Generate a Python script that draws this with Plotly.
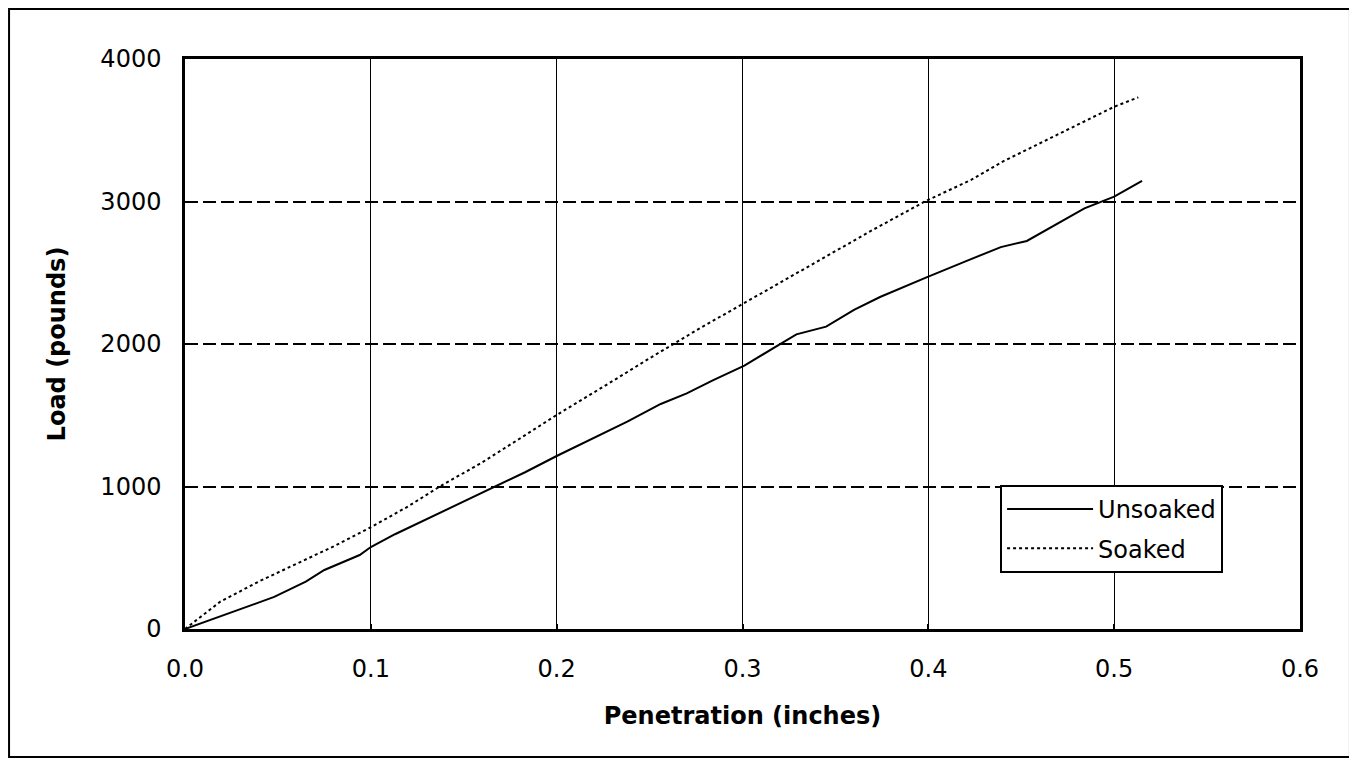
import plotly.graph_objects as go

# Data
unsoaked_x = [0.0, 0.048, 0.065, 0.075, 0.094, 0.100, 0.113, 0.130, 0.152, 0.166,
              0.183, 0.200, 0.223, 0.238, 0.256, 0.270, 0.284, 0.301, 0.320, 0.329,
              0.345, 0.360, 0.374, 0.389, 0.399, 0.420, 0.439, 0.453, 0.484, 0.500,
              0.515]
unsoaked_y = [0, 225, 332, 414, 519, 575, 665, 772, 905, 994,
              1100, 1214, 1361, 1455, 1579, 1654, 1745, 1848, 1998, 2068,
              2122, 2239, 2330, 2414, 2468, 2580, 2680, 2723, 2952, 3034,
              3144]

soaked_x = [0.0, 0.019, 0.040, 0.060, 0.080, 0.100, 0.120, 0.137, 0.160, 0.180,
            0.200, 0.231, 0.250, 0.277, 0.300, 0.346, 0.370, 0.399, 0.423, 0.440,
            0.460, 0.480, 0.500, 0.513]
soaked_y = [0, 192, 335, 460, 580, 714, 860, 999, 1170, 1335,
            1502, 1747, 1900, 2110, 2281, 2618, 2800, 3006, 3151, 3280,
            3410, 3540, 3665, 3731]

x_ticks = [0.0, 0.1, 0.2, 0.3, 0.4, 0.5, 0.6]
y_ticks = [0, 1000, 2000, 3000, 4000]

FONT = "DejaVu Sans"

fig = go.Figure()
fig.add_trace(go.Scatter(x=unsoaked_x, y=unsoaked_y, mode="lines", name="Unsoaked",
                         legendgroup="a",
                         line=dict(color="black", width=2)))
fig.add_trace(go.Scatter(x=soaked_x, y=soaked_y, mode="lines", name="Soaked",
                         legendgroup="b",
                         line=dict(color="black", width=2, dash="dot")))

fig.update_layout(
    width=1349, height=757,
    margin=dict(l=177, r=57, t=51, b=136, autoexpand=False),
    paper_bgcolor="white", plot_bgcolor="white",
    font=dict(family=FONT, size=24, color="black"),
    legend=dict(x=0.731, y=0.2526, xanchor="left", yanchor="top",
                bgcolor="white", bordercolor="black", borderwidth=2,
                font=dict(family=FONT, size=24), itemwidth=86,
                tracegroupgap=5),
    shapes=[dict(type="rect", xref="paper", yref="paper",
                 x0=-0.1578, x1=1.0448, y0=-0.2246, y1=1.0877,
                 line=dict(color="black", width=2), layer="below")],
)

fig.update_xaxes(
    range=[0, 0.6], tickvals=x_ticks, tickformat=".1f",
    showgrid=True, gridcolor="black", gridwidth=1,
    showline=True, linecolor="black", linewidth=3, mirror=True,
    ticks="inside", ticklen=5, tickcolor="black", tickwidth=2,
    ticklabelstandoff=16, zeroline=False,
    tickfont=dict(family=FONT, size=24),
    title=dict(text="Penetration (inches)", standoff=26,
               font=dict(family=FONT, size=24, weight="bold")),
    automargin=False,
)
fig.update_yaxes(
    range=[0, 4000], tickvals=y_ticks,
    showgrid=True, gridcolor="black", gridwidth=2, griddash="13px,5px",
    showline=True, linecolor="black", linewidth=2.5, mirror=True,
    ticks="inside", ticklen=5, tickcolor="black", tickwidth=2,
    ticklabelstandoff=16, zeroline=False,
    tickfont=dict(family=FONT, size=24),
    title=dict(text="Load (pounds)", standoff=28,
               font=dict(family=FONT, size=24, weight="bold")),
    automargin=False,
)

fig.write_html("out.html")
